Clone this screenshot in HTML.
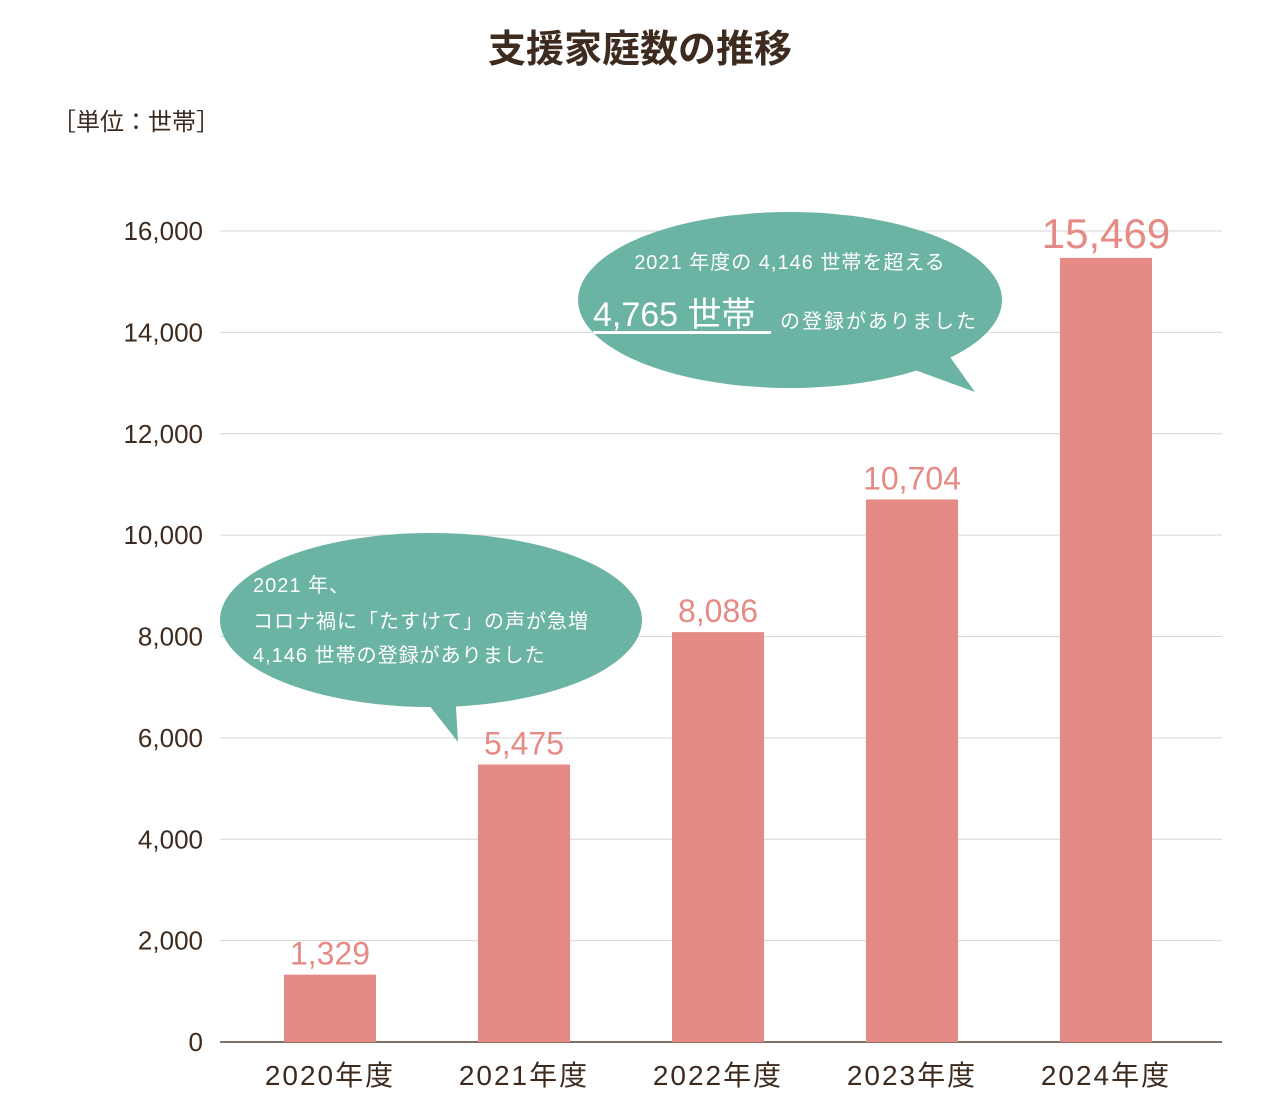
<!DOCTYPE html>
<html><head><meta charset="utf-8"><style>
body{margin:0;background:#fff;width:1280px;height:1110px;overflow:hidden;font-family:"Liberation Sans","Noto Sans CJK JP",sans-serif}
</style></head><body>
<svg id="chart" width="1280" height="1110" xmlns="http://www.w3.org/2000/svg" font-family="Liberation Sans, Noto Sans CJK JP, sans-serif">
<text x="640" y="62" text-anchor="middle" font-size="38" font-weight="bold" fill="#3d2b1f">支援家庭数の推移</text>
<text x="52" y="130" font-size="24" fill="#3d2b1f">［単位：世帯］</text>
<g id="grid"></g><g id="bars"></g><g id="labels"></g>
<g>
<ellipse cx="790" cy="300" rx="212" ry="88" fill="#6bb3a3"/>
<polygon points="915,370 975,392 945,350" fill="#6bb3a3"/>
<text x="790" y="269" text-anchor="middle" font-size="20" fill="#fff" letter-spacing="1">2021 年度の 4,146 世帯を超える</text>
<text x="593" y="326" font-size="34" fill="#fff">4,765 世帯</text>
<rect x="593" y="331" width="178" height="3" fill="#fff"/>
<text x="780" y="328" font-size="20" fill="#fff" letter-spacing="2">の登録がありました</text>
</g>
<g>
<ellipse cx="431" cy="620" rx="211" ry="87" fill="#6bb3a3"/>
<polygon points="425,700 458,742 455,690" fill="#6bb3a3"/>
<text x="253" y="592" font-size="20" fill="#fff" letter-spacing="1">2021 年、</text>
<text x="253" y="628" font-size="20" fill="#fff" letter-spacing="1">コロナ禍に「たすけて」の声が急増</text>
<text x="253" y="662" font-size="20" fill="#fff" letter-spacing="1">4,146 世帯の登録がありました</text>
</g>
</svg>
<script>
const categories=["2020年度","2021年度","2022年度","2023年度","2024年度"];
const values=[1329,5475,8086,10704,15469];
const valueLabels=["1,329","5,475","8,086","10,704","15,469"];
const ticks=[0,2000,4000,6000,8000,10000,12000,14000,16000];
const tickLabels=["0","2,000","4,000","6,000","8,000","10,000","12,000","14,000","16,000"];
const NS="http://www.w3.org/2000/svg";
const y=v=>1042-v*(811/16000);
const x=i=>330+i*194;
function mk(tag,attrs,parent,txt){const e=document.createElementNS(NS,tag);for(const k in attrs)e.setAttribute(k,attrs[k]);if(txt!==undefined)e.textContent=txt;document.getElementById(parent).appendChild(e);return e;}
ticks.forEach((t,i)=>{
 const l=mk('line',{x1:220,x2:1222,y1:y(t),y2:y(t),stroke:t===0?'#5a4030':'#d6d6d6','stroke-width':t===0?1.5:1},'grid');
 
 
 const tx=mk('text',{x:203,y:y(t)+9,'text-anchor':'end','font-size':26,fill:'#3d2b1f'},'grid',tickLabels[i]);
 
 
});
values.forEach((v,i)=>{
 const r=mk('rect',{x:x(i)-46,y:y(v),width:92,height:1042-y(v),fill:'#e58a85'},'bars');
 
 
 const vl=mk('text',{x:x(i),y:y(v)-10,'text-anchor':'middle','font-size':i===4?42:32,fill:'#e58a85'},'labels',valueLabels[i]);
 
 
 const cl=mk('text',{x:x(i),y:1085,'text-anchor':'middle','font-size':28,fill:'#3d2b1f','letter-spacing':2},'labels',categories[i]);
 
 
});
</script>
</body></html>
